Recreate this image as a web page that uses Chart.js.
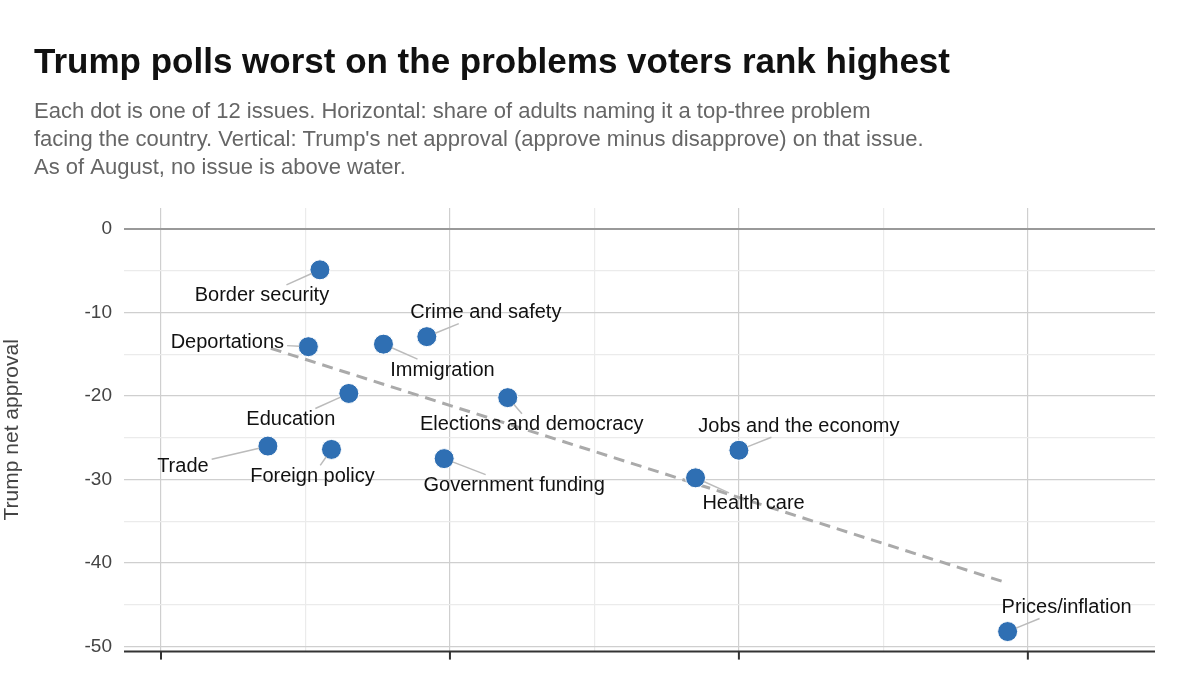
<!DOCTYPE html>
<html><head><meta charset="utf-8">
<script src="https://cdn.jsdelivr.net/npm/chart.js@4/dist/chart.umd.min.js"></script>
<style>html,body{margin:0;padding:0;background:#fff}#w{width:1200px;height:675px;position:relative}</style>
</head><body><div id="w"><canvas id="c" width="1200" height="675"></canvas></div>
<script>
const issues = ["Border security","Crime and safety","Deportations","Immigration","Education","Elections and democracy","Jobs and the economy","Trade","Foreign policy","Government funding","Health care","Prices/inflation"];
const shareTopThree = [5.5,9.2,5.1,7.7,6.5,12.0,20.0,3.7,5.9,9.8,18.5,29.3];
const netApproval = [-4.9,-12.9,-14.1,-13.8,-19.7,-20.2,-26.5,-26.0,-26.4,-27.5,-29.8,-48.2];
const trendX = [3.8,29.3];
const trendY = [-14.3,-42.4];
const yTickLabels = [0,-10,-20,-30,-40,-50];
// label offsets from dot (px)
const labelOffsets = [[-58,26],[59,-24],[-81,-4],[59,26],[-58,26],[24,27],[60,-24],[-85,20],[-19,27],[70,27],[58,26],[59,-24]];

const F = '"Liberation Sans", Arial, sans-serif';
const deco = {
  id:'deco',
  beforeDraw(ch){
    const c=ch.ctx; c.save();
    c.fillStyle='#fff'; c.fillRect(0,0,ch.width,ch.height);
    c.fillStyle='#111'; c.font='bold 35px '+F; c.textBaseline='alphabetic';
    c.fillText('Trump polls worst on the problems voters rank highest',34,73);
    c.fillStyle='#666'; c.font='22px '+F;
    c.fillText('Each dot is one of 12 issues. Horizontal: share of adults naming it a top-three problem',34,118);
    c.fillText("facing the country. Vertical: Trump's net approval (approve minus disapprove) on that issue.",34,146);
    c.fillText('As of August, no issue is above water.',34,174);
    c.restore();
  },
  afterDatasetsDraw(ch){
    const c=ch.ctx, xs=ch.scales.x, ys=ch.scales.y, a=ch.chartArea;
    c.save();
    c.strokeStyle='#333'; c.lineWidth=2;
    c.beginPath(); c.moveTo(a.left,a.bottom); c.lineTo(a.right,a.bottom); c.stroke();
    [0,10,20,30].forEach(v=>{const x=xs.getPixelForValue(v); c.beginPath(); c.moveTo(x,a.bottom); c.lineTo(x,a.bottom+8); c.stroke();});
    c.font='20px '+F; c.textAlign='center'; c.textBaseline='middle';
    issues.forEach((name,i)=>{
      const px=xs.getPixelForValue(shareTopThree[i]), py=ys.getPixelForValue(netApproval[i]);
      const tx=px+labelOffsets[i][0], ty=py+labelOffsets[i][1];
      const w=c.measureText(name).width/2+3, h=11;
      const dx=px-tx, dy=py-ty;
      let t=Math.min(Math.abs(dx)>0? w/Math.abs(dx):1e9, Math.abs(dy)>0? h/Math.abs(dy):1e9);
      if(t<1){
        const ex=tx+dx*t, ey=ty+dy*t;
        const d=Math.hypot(px-ex,py-ey);
        if(d>10){ c.strokeStyle='#bbb'; c.lineWidth=1.5; c.beginPath();
          c.moveTo(px+(ex-px)*9/d, py+(ey-py)*9/d); c.lineTo(ex,ey); c.stroke(); }
      }
      c.fillStyle='#111'; c.fillText(name,tx,ty);
    });
    c.restore();
  }
};

new Chart(document.getElementById('c'),{
  type:'scatter',
  data:{datasets:[
    {data:shareTopThree.map((x,i)=>({x,y:netApproval[i]})),backgroundColor:'#2f6fb3',borderColor:'#fff',borderWidth:1,pointRadius:10,pointHoverRadius:10,order:1},
    {type:'line',data:trendX.map((x,i)=>({x,y:trendY[i]})),borderColor:'#aaa',borderWidth:3,borderDash:[11,7],pointRadius:0,fill:false,order:2}
  ]},
  plugins:[deco],
  options:{
    responsive:false, animation:false, devicePixelRatio:1,
    layout:{padding:{top:208,right:45,bottom:18,left:0}},
    plugins:{legend:{display:false},tooltip:{enabled:false}},
    scales:{
      x:{type:'linear',min:-1.28,max:34.4,
        afterBuildTicks:s=>{s.ticks=[0,5,10,15,20,25,30].map(v=>({value:v}));},
        ticks:{display:false},
        border:{display:false},
        grid:{drawTicks:false,color:c=>c.tick&&c.tick.value%10===0?'#cfcfcf':'#ebebeb',lineWidth:1.2},
        afterFit:s=>{s.height=0;}},
      y:{min:-50.6,max:2.5,
        afterBuildTicks:s=>{s.ticks=[0,-5,-10,-15,-20,-25,-30,-35,-40,-45,-50].map(v=>({value:v}));},
        ticks:{color:'#444',font:{size:19,family:F},padding:12,callback:v=>yTickLabels.includes(v)?String(v):''},
        border:{display:false},
        grid:{drawTicks:false,color:c=>c.tick&&c.tick.value===0?'#999':(c.tick&&c.tick.value%10===0?'#cfcfcf':'#ebebeb'),lineWidth:c=>c.tick&&c.tick.value===0?2:1.2},
        title:{display:true,text:'Trump net approval',color:'#444',font:{size:21,family:F},padding:{top:0,bottom:18}},
        afterFit:s=>{s.width=124;}}
    }
  }
});
</script></body></html>
